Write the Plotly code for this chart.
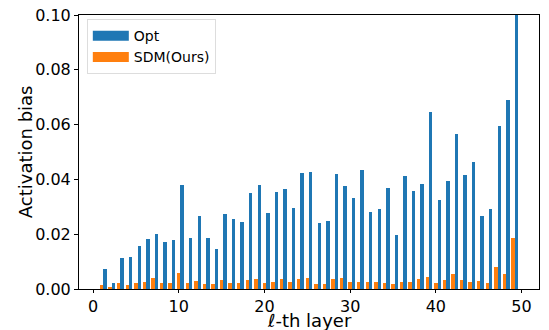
import plotly.graph_objects as go

layers = list(range(1, 50))
opt = [0.0073, 0.0022, 0.0113, 0.0117, 0.0157, 0.0182, 0.0200, 0.0172, 0.0179, 0.0380,
       0.0186, 0.0266, 0.0186, 0.0146, 0.0274, 0.0255, 0.0245, 0.0350, 0.0380, 0.0277,
       0.0354, 0.0365, 0.0296, 0.0423, 0.0427, 0.0241, 0.0248, 0.0420, 0.0376, 0.0332,
       0.0434, 0.0281, 0.0292, 0.0369, 0.0197, 0.0412, 0.0358, 0.0383, 0.0646, 0.0325,
       0.0394, 0.0566, 0.0416, 0.0464, 0.0266, 0.0292, 0.0595, 0.0690, 0.1200]
sdm = [0.0015, 0.0004, 0.0022, 0.0015, 0.0022, 0.0026, 0.0040, 0.0022, 0.0022, 0.0058,
       0.0022, 0.0029, 0.0018, 0.0018, 0.0033, 0.0022, 0.0022, 0.0033, 0.0036, 0.0022,
       0.0026, 0.0036, 0.0026, 0.0036, 0.0040, 0.0018, 0.0018, 0.0036, 0.0040, 0.0026,
       0.0026, 0.0026, 0.0026, 0.0022, 0.0018, 0.0026, 0.0026, 0.0036, 0.0044, 0.0022,
       0.0033, 0.0055, 0.0033, 0.0026, 0.0029, 0.0022, 0.0080, 0.0055, 0.0186]
x_ticks = [0, 10, 20, 30, 40, 50]
y_ticks = [0.00, 0.02, 0.04, 0.06, 0.08, 0.10]
series_names = ["Opt", "SDM(Ours)"]
series_colors = ["#1f77b4", "#ff7f0e"]

FONT = "DejaVu Sans"

fig = go.Figure()
fig.add_trace(go.Bar(x=layers, y=opt, name=series_names[0], width=0.4, offset=0.2,
                     showlegend=False,
                     marker=dict(color=series_colors[0], line=dict(width=0))))
fig.add_trace(go.Bar(x=layers, y=sdm, name=series_names[1], width=0.4, offset=-0.2,
                     showlegend=False,
                     marker=dict(color=series_colors[1], line=dict(width=0))))
# legend entries drawn as wide patches (like matplotlib)
for nm, col in zip(series_names, series_colors):
    fig.add_trace(go.Scatter(x=[None], y=[None], mode="lines", name=nm,
                             line=dict(color=col, width=10)))

axis_common = dict(showline=True, linecolor="black", linewidth=1, mirror=True,
                   ticks="outside", tickwidth=1, tickcolor="black",
                   showgrid=False, zeroline=False, automargin=False,
                   tickfont=dict(family=FONT, size=16, color="black"))

fig.update_layout(
    width=549, height=330,
    margin=dict(l=79, r=10, t=15, b=41),
    paper_bgcolor="white", plot_bgcolor="white",
    barmode="overlay", bargap=0,
    font=dict(family=FONT, color="black"),
    xaxis=dict(range=[-1.64, 52.04], tickvals=x_ticks, ticklen=3, **axis_common),
    yaxis=dict(range=[0, 0.1], tickvals=y_ticks, tickformat=".2f", ticklen=4, **axis_common),
    legend=dict(x=0.017, y=0.985, xanchor="left", yanchor="top",
                bgcolor="rgba(255,255,255,0.8)", bordercolor="#dddddd", borderwidth=1,
                font=dict(family=FONT, size=14), traceorder="normal",
                itemwidth=36),
    showlegend=True,
    annotations=[
        dict(text="<i>ℓ</i>-th layer", xref="paper", yref="paper", x=0.5, y=-0.1624,
             xanchor="center", yanchor="bottom", showarrow=False,
             font=dict(family=FONT, size=18, color="black")),
        dict(text="Activation bias", xref="paper", yref="paper", x=-0.117, y=0.5,
             xanchor="center", yanchor="middle", showarrow=False, textangle=-90,
             font=dict(family=FONT, size=18, color="black")),
    ],
)

fig.write_html("out.html")
